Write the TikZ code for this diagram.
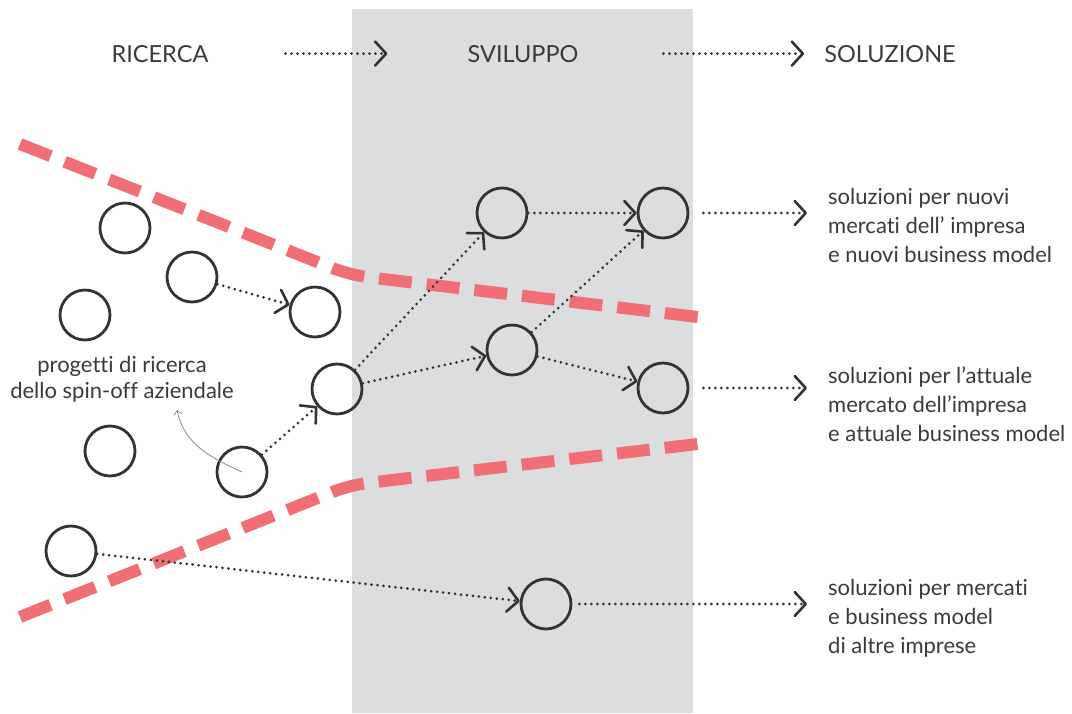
\documentclass[tikz,border=0pt]{standalone}
\usepackage{fontspec}
\setmainfont{Lato}[Ligatures=NoCommon]
\usetikzlibrary{arrows.meta}
\definecolor{ink}{HTML}{333333}
\definecolor{txt}{HTML}{3A3A3A}
\definecolor{band}{HTML}{DCDDDF}
\definecolor{redline}{HTML}{F06E74}
\definecolor{thin}{HTML}{8A8A8A}
\begin{document}
\begin{tikzpicture}[x=1pt,y=1pt,
  bubble/.style={circle, draw=ink, line width=2.8pt, minimum size=50pt, inner sep=0pt},
  flow/.style={draw=ink, line width=3pt, line cap=round, dash pattern=on 0pt off 6pt,
    -{Straight Barb[length=11pt,width=24pt,line width=2.6pt,round]}},
  cut/.style={draw=redline, line width=12pt, dash pattern=on 33pt off 15pt, rounded corners=18pt},
  hdr/.style={anchor=base, inner sep=0pt, text=txt, font=\fontsize{23.5}{28}\selectfont},
  outtxt/.style={anchor=north west, inner sep=0pt, align=left, text=txt, font=\fontsize{22}{29}\selectfont},
  note/.style={anchor=north, inner sep=0pt, align=center, text=txt, font=\fontsize{22}{26.5}\selectfont},
  pointer/.style={draw=thin, line width=0.8pt, -{Straight Barb[length=4pt,width=8pt,line width=0.8pt]}}
]
\useasboundingbox (0,0) rectangle (1072,-713);
% development band
\fill[band] (352,-9) rectangle (693,-713);

% red boundaries
\draw[cut] (20,-144) -- (350,-275) -- (706,-318);
\draw[cut] (20,-617) -- (350,-485) -- (706,-443);

% headers
\node[hdr] (ric) at (160,-62) {RICERCA};
\node[hdr] (svi) at (523,-62) {SVILUPPO};
\node[hdr] (sol) at (890,-62) {SOLUZIONE};
\draw[flow, shorten <=77pt, shorten >=80pt] (ric.east) -- (svi.west);
\draw[flow, shorten <=85pt, shorten >=20pt] (svi.east) -- (sol.west);

% bubbles
\node[bubble] (c1) at (125,-228) {};
\node[bubble] (c2) at (192,-277) {};
\node[bubble] (c3) at (85,-315) {};
\node[bubble] (c4) at (315,-312) {};
\node[bubble] (c5) at (337,-389) {};
\node[bubble] (c6) at (110,-451) {};
\node[bubble] (c7) at (242,-472) {};
\node[bubble] (c8) at (71,-551) {};
\node[bubble] (c9) at (502,-213) {};
\node[bubble] (c10) at (663,-213) {};
\node[bubble] (c11) at (512,-350) {};
\node[bubble] (c12) at (663,-388) {};
\node[bubble] (c13) at (546,-604) {};

% flows between bubbles
\draw[flow] (c2) -- (c4);
\draw[flow] (c7) -- (c5);
\draw[flow] (c5) -- (c9);
\draw[flow] (c5) -- (c11);
\draw[flow] (c9) -- (c10);
\draw[flow] (c11) -- (c10);
\draw[flow] (c11) -- (c12);
\draw[flow] (c8) -- (c13);

% outcome texts
\node[outtxt] (s1) at (828,-188) {soluzioni per nuovi\\mercati dell’ impresa\\e nuovi business model};
\node[outtxt] (s2) at (828,-366) {soluzioni per l’attuale\\mercato dell’impresa\\e attuale business model};
\node[outtxt] (s3) at (828,-579) {soluzioni per mercati\\e business model\\di altre imprese};
\draw[flow, shorten <=14pt, shorten >=21pt] (c10.east) -- (c10.east -| s1.west);
\draw[flow, shorten <=14pt, shorten >=21pt] (c12.east) -- (c12.east -| s2.west);
\draw[flow, shorten <=7pt, shorten >=21pt] (c13.east) -- (c13.east -| s3.west);

% label
\node[note] (lbl) at (122,-356) {progetti di ricerca\\dello spin-off aziendale};
\coordinate (lbltip) at (177,-410);
\draw[pointer] (c7.center) to[out=155,in=-78] (lbltip);
\end{tikzpicture}
\end{document}
